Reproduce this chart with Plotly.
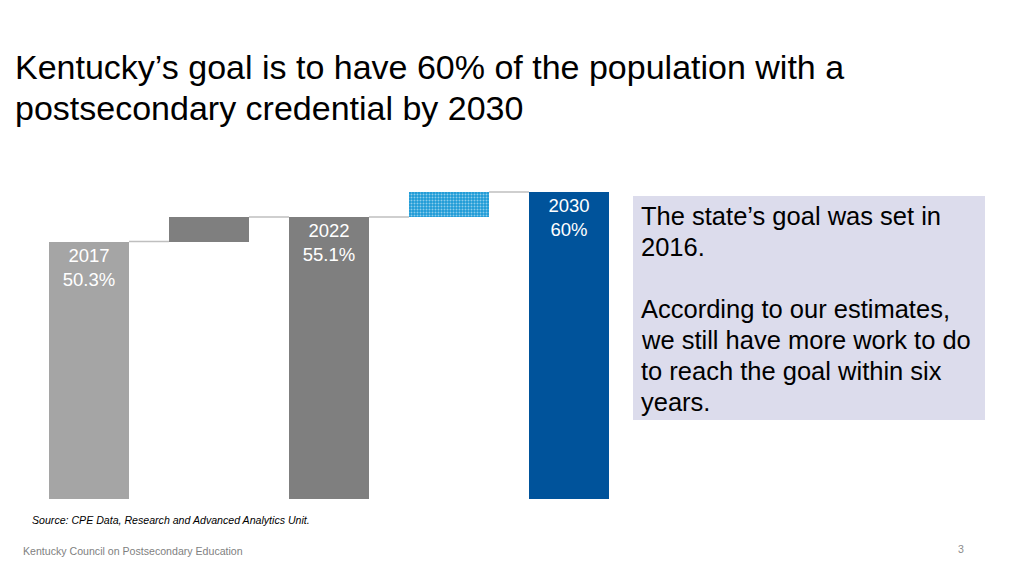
import plotly.graph_objects as go

# data
labels = ["2017", "", "2022", "", "2030"]
levels = [50.3, 55.1, 55.1, 60.0, 60.0]   # top of each bar
bases = [0, 50.3, 0, 55.1, 0]             # bottom of each bar
value_text = ["2017<br>50.3%", "", "2022<br>55.1%", "", "2030<br>60%"]
colors = ["#a5a5a5", "#7f7f7f", "#7f7f7f", "#1c9ad6", "#00539b"]
patterns = ["", "", "", ".", ""]

title_lines = ["Kentucky’s goal is to have 60% of the population with a",
               "postsecondary credential by 2030"]
note_lines = ["The state’s goal was set in", "2016.", "",
              "According to our estimates,", "we still have more work to do",
              "to reach the goal within six", "years."]

# page offset of the browser body margin
OFF = 8
W, H = 1024 - OFF, 576 - OFF


def px_x(x):
    return (x - OFF) / W


def px_y(y):
    return 1 - (y - OFF) / H


xs = list(range(len(labels)))
heights = [t - b for t, b in zip(levels, bases)]
bar_w = 0.667

fig = go.Figure()
fig.add_trace(go.Bar(
    x=xs, y=heights, base=bases, width=bar_w,
    marker=dict(color=colors, line=dict(width=0),
                pattern=dict(shape=patterns, fgcolor="#8fd3f5", bgcolor="#1c9ad6",
                             size=3, solidity=0.35)),
    text=value_text, textposition="inside", insidetextanchor="end",
    textfont=dict(color="white", size=18.5, family="Liberation Sans"),
    cliponaxis=False, hoverinfo="skip", showlegend=False,
))

# connector lines between bars
for i in range(len(xs) - 1):
    fig.add_trace(go.Scatter(
        x=[xs[i] + bar_w / 2, xs[i + 1] - bar_w / 2], y=[levels[i], levels[i]],
        mode="lines", line=dict(color="#bfbfbf", width=1.5),
        hoverinfo="skip", showlegend=False,
    ))

fig.update_layout(
    width=W, height=H,
    margin=dict(l=0, r=0, t=0, b=0),
    paper_bgcolor="white", plot_bgcolor="white",
    font=dict(family="Liberation Sans", color="black"),
    bargap=0,
    xaxis=dict(domain=[px_x(29), px_x(629)], range=[-0.5, 4.5],
               visible=False, fixedrange=True),
    yaxis=dict(domain=[px_y(499), px_y(160)], range=[0, 66.25],
               visible=False, fixedrange=True),
)

# side text box
fig.add_shape(type="rect", xref="paper", yref="paper",
              x0=px_x(633), x1=px_x(985), y0=px_y(420), y1=px_y(196),
              fillcolor="#dcdcec", line=dict(width=0), layer="below")

for k, line in enumerate(note_lines):
    if not line:
        continue
    fig.add_annotation(
        xref="paper", yref="paper", x=px_x(639), y=px_y(216 + 31 * k),
        xanchor="left", yanchor="middle", align="left", showarrow=False,
        text=line, font=dict(size=25.5, color="black"),
    )

# title
for k, line in enumerate(title_lines):
    fig.add_annotation(
        xref="paper", yref="paper", x=px_x(13), y=px_y(67 + 41 * k),
        xanchor="left", yanchor="middle", align="left", showarrow=False,
        text=line, font=dict(size=34, color="black"),
    )

fig.add_annotation(
    xref="paper", yref="paper", x=px_x(30), y=px_y(520),
    xanchor="left", yanchor="middle", showarrow=False,
    text="<i>Source: CPE Data, Research and Advanced Analytics Unit.</i>",
    font=dict(size=10.6, color="black"),
)
fig.add_annotation(
    xref="paper", yref="paper", x=px_x(21), y=px_y(551),
    xanchor="left", yanchor="middle", showarrow=False,
    text="Kentucky Council on Postsecondary Education",
    font=dict(size=10.6, color="#7f7f7f"),
)
fig.add_annotation(
    xref="paper", yref="paper", x=px_x(961), y=px_y(549),
    xanchor="center", yanchor="middle", showarrow=False,
    text="3", font=dict(size=10.6, color="#8c8c8c"),
)

fig.write_html("out.html")
